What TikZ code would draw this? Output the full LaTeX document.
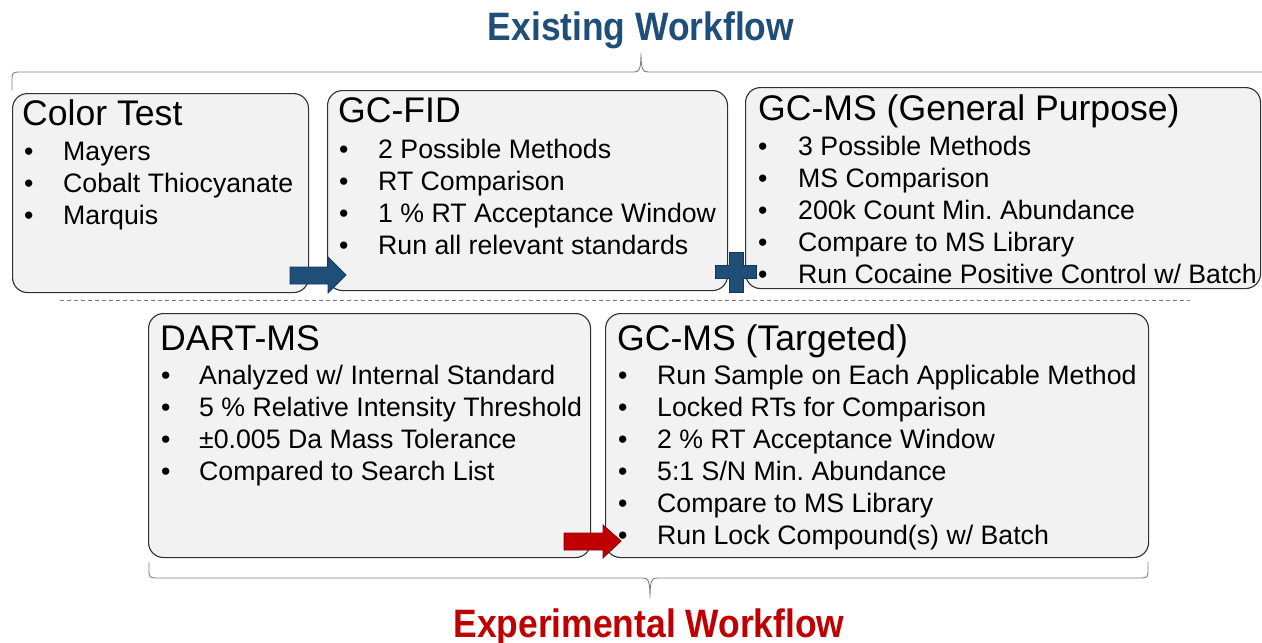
\documentclass[tikz,border=0pt]{standalone}
\usepackage{fontspec}
\setmainfont{Liberation Sans}
\frenchspacing
\definecolor{boxfill}{HTML}{F2F2F2}
\definecolor{boxline}{HTML}{303030}
\definecolor{exblue}{HTML}{1F4E79}
\definecolor{exbluedark}{HTML}{14385A}
\definecolor{exred}{HTML}{C00000}
\definecolor{exreddark}{HTML}{800000}
\definecolor{bracegray}{HTML}{7F7F7F}
\begin{document}
\begin{tikzpicture}[x=1pt,y=-1pt,
  box/.style={draw=boxline, fill=boxfill, rounded corners=15pt, line width=1.1pt, inner sep=0, anchor=north west},
  hdr/.style={font=\fontsize{35.6}{40}\selectfont, anchor=base west, inner sep=0},
  itm/.style={font=\fontsize{26.7}{30}\selectfont, anchor=base west, inner sep=0},
  ttl/.style={font=\fontsize{35.4}{40}\selectfont\bfseries, anchor=base, inner sep=0},
  brace/.style={draw=bracegray, line width=0.9pt},
  blockblue/.style={fill=exblue, draw=exbluedark, line width=0.8pt, line join=miter},
  blockred/.style={fill=exred, draw=exreddark, line width=0.8pt, line join=miter}]
\useasboundingbox (0,0) rectangle (1262,643);

% titles
\node[ttl, text=exblue] (t1) at (641,40) {\scalebox{1}[1.12]{Existing Workflow}};
\node[ttl, text=exred] (t2) at (649,637) {\scalebox{1}[1.12]{Experimental Workflow}};

% top brace
\coordinate (tbL) at (12,90);
\coordinate (tbT) at (641,53);
\coordinate (tbR) at (1270,72);
\draw[brace] (tbL) -- (12,78) .. controls (12,74) and (13,72) .. (18,72) -- (634,72)
  .. controls (639,72) and (641,70) .. (tbT) .. controls (641,70) and (643,72) .. (648,72) -- (tbR);

% bottom brace
\coordinate (bbL) at (149,562);
\coordinate (bbT) at (650,598);
\coordinate (bbR) at (1148,562);
\draw[brace] (bbL) -- (149,572) .. controls (149,576) and (150,578) .. (155,578) -- (643,578)
  .. controls (648,578) and (650,580) .. (bbT) .. controls (650,580) and (652,578) .. (657,578)
  -- (1142,578) .. controls (1147,578) and (1148,576) .. (1148,572) -- (bbR);

% dashed separator
\coordinate (dL) at (60,300);
\coordinate (dR) at (1190,300);
\draw[bracegray, line width=0.9pt, dash pattern=on 4pt off 3pt] (dL) -- (dR);

% boxes
\node[box, minimum width=296, minimum height=199] (ct) at (12,93) {};
\node[box, minimum width=400, minimum height=200] (fid) at (327,90) {};
\node[box, minimum width=515, minimum height=201] (gms) at (745,87) {};
\node[box, minimum width=442, minimum height=244] (dart) at (148,313) {};
\node[box, minimum width=543, minimum height=244] (tgt) at (605,313) {};

% headers
\node[hdr] (ct-h) at (22,125) {Color Test};
\node[hdr] (fid-h) at (338,122) {GC-FID};
\node[hdr] (gms-h) at (758,120) {GC-MS (General Purpose)};
\node[hdr] (dart-h) at (160,350) {DART-MS};
\node[hdr] (tgt-h) at (617,350) {GC-MS (Targeted)};

% items
\foreach \t [count=\i] in {Mayers, Cobalt Thiocyanate, Marquis}
  \node[itm] (ct-\i) at (24,{160+32*(\i-1)}) {\makebox[39pt][l]{•}\t};
\foreach \t [count=\i] in {2 Possible Methods, RT Comparison, 1 \% RT Acceptance Window, Run all relevant standards}
  \node[itm] (fid-\i) at (339,{158+32*(\i-1)}) {\makebox[39pt][l]{•}\t};
\foreach \t [count=\i] in {3 Possible Methods, MS Comparison, 200k Count Min. Abundance, Compare to MS Library, Run Cocaine Positive Control w/ Batch}
  \node[itm] (gms-\i) at (758,{155+32*(\i-1)}) {\makebox[40pt][l]{•}\t};
\foreach \t [count=\i] in {Analyzed w/ Internal Standard, 5 \% Relative Intensity Threshold, ±0.005 Da Mass Tolerance, Compared to Search List}
  \node[itm] (dart-\i) at (161,{384+32*(\i-1)}) {\makebox[38pt][l]{•}\t};
\foreach \t [count=\i] in {Run Sample on Each Applicable Method, Locked RTs for Comparison, 2 \% RT Acceptance Window, 5:1 S/N Min. Abundance, Compare to MS Library, Run Lock Compound(s) w/ Batch}
  \node[itm] (tgt-\i) at (618,{384+32*(\i-1)}) {\makebox[39pt][l]{•}\t};

% block arrows and plus
\filldraw[blockblue] (290,267) -- (328,267) -- (328,257) -- (346,275) -- (328,293) -- (328,284) -- (290,284) -- cycle;
\filldraw[blockblue] (729,252) -- (743,252) -- (743,265) -- (756,265) -- (756,278) -- (743,278) -- (743,292)
  -- (729,292) -- (729,278) -- (715,278) -- (715,265) -- (729,265) -- cycle;
\filldraw[blockred] (564,533) -- (603,533) -- (603,525) -- (621,541) -- (603,558) -- (603,550) -- (564,550) -- cycle;
\end{tikzpicture}
\end{document}
